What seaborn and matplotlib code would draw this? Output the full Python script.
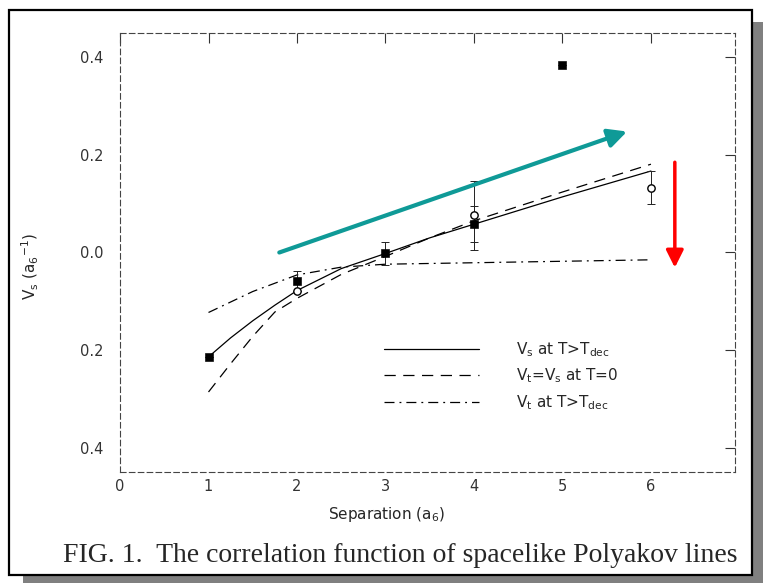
import numpy as np
import pandas as pd
import seaborn as sns
from matplotlib import pyplot as plt
from matplotlib.patches import Rectangle
from matplotlib.lines import Line2D

# %% data
# filled squares
sq_x = [1, 2, 3, 4, 5]
sq_y = [-0.214, -0.058, -0.002, 0.058, 0.385]
sq_err = [0.0, 0.02, 0.024, 0.037, 0.0]
# open circles
ci_x = [2, 4, 6]
ci_y = [-0.078, 0.076, 0.133]
ci_err = [0.0, 0.07, 0.034]

# V_s at T>T_dec (solid)
vs_x = [1, 1.25, 1.5, 1.75, 2, 2.5, 3, 3.5, 4, 5, 6]
vs_y = [-0.214, -0.175, -0.140, -0.108, -0.078, -0.033, -0.002, 0.030, 0.058, 0.114, 0.167]
# V_t = V_s at T=0 (dashed)
v0_x = [1, 1.25, 1.5, 1.75, 2, 2.5, 3, 3.5, 4, 5, 6]
v0_y = [-0.286, -0.228, -0.172, -0.122, -0.094, -0.045, -0.008, 0.030, 0.065, 0.124, 0.181]
# V_t at T>T_dec (dash-dot)
vt_x = [1, 1.5, 2, 2.5, 3, 4, 5, 6]
vt_y = [-0.123, -0.080, -0.046, -0.030, -0.024, -0.021, -0.018, -0.015]

xticks = [0, 1, 2, 3, 4, 5, 6]
yticks = [0.4, 0.2, 0.0, -0.2, -0.4]
ytick_labels = ['0.4', '0.2', '0.0', '0.2', '0.4']

# annotation arrows (start, end) in data units
teal_arrow = ((1.80, 0.0), (5.73, 0.248))
red_arrow = ((6.27, 0.185), (6.27, -0.031))

caption = 'FIG. 1.  The correlation function of spacelike Polyakov lines'

# %% figure
sns.set_style('white')
plt.rcParams['font.family'] = ['DejaVu Sans']
plt.rcParams['mathtext.default'] = 'regular'

fig = plt.figure(figsize=(7.63, 5.83), dpi=100)
fig.patch.set_facecolor('white')
# page shadow + boxed frame
fig.patches.append(Rectangle((0.030, 0.0), 0.970, 0.962, transform=fig.transFigure,
                             facecolor='#808080', edgecolor='none', zorder=0))
fig.patches.append(Rectangle((0.0118, 0.0137), 0.9738, 0.969, transform=fig.transFigure,
                             facecolor='white', edgecolor='black', lw=1.6, zorder=1))

ax = fig.add_axes([0.1573, 0.1904, 0.8060, 0.7530])
ax.set_facecolor('none')
ax.set_zorder(2)

dfVs = pd.DataFrame({'x': vs_x, 'y': vs_y})
dfV0 = pd.DataFrame({'x': v0_x, 'y': v0_y})
dfVt = pd.DataFrame({'x': vt_x, 'y': vt_y})

sns.lineplot(data=dfVs, x='x', y='y', ax=ax, color='black', lw=0.9, sort=False)
sns.lineplot(data=dfV0, x='x', y='y', ax=ax, color='black', lw=0.9, sort=False,
             linestyle=(0, (9, 6)))
sns.lineplot(data=dfVt, x='x', y='y', ax=ax, color='black', lw=0.9, sort=False,
             linestyle=(0, (8, 4, 1.5, 4)))

ax.errorbar(sq_x, sq_y, yerr=sq_err, fmt='none', ecolor='#222222', elinewidth=0.7,
            capsize=3, capthick=0.7, zorder=3)
ax.errorbar(ci_x, ci_y, yerr=ci_err, fmt='none', ecolor='#222222', elinewidth=0.7,
            capsize=3, capthick=0.7, zorder=3)
sns.scatterplot(x=sq_x, y=sq_y, ax=ax, marker='s', s=30, color='black',
                edgecolor='black', zorder=4)
sns.scatterplot(x=ci_x, y=ci_y, ax=ax, marker='o', s=28, facecolor='white',
                edgecolor='black', linewidth=1.0, zorder=4)

ax.annotate('', xy=teal_arrow[1], xytext=teal_arrow[0],
            arrowprops=dict(arrowstyle='-|>', color='#0f9a97', lw=3,
                            mutation_scale=28, shrinkA=0, shrinkB=0), zorder=5)
ax.annotate('', xy=red_arrow[1], xytext=red_arrow[0],
            arrowprops=dict(arrowstyle='-|>', color='#ff0000', lw=2.5,
                            mutation_scale=26, shrinkA=0, shrinkB=0), zorder=5)

ax.set_xlim(0, 6.95)
ax.set_ylim(-0.45, 0.45)
ax.set_xticks(xticks)
ax.set_xticklabels([str(t) for t in xticks])
ax.set_yticks(yticks)
ax.set_yticklabels(ytick_labels)
ax.tick_params(axis='both', which='major', direction='in', length=7, width=0.8,
               labelsize=10.5, labelcolor='#333333', color='#333333',
               top=True, right=True)
ax.tick_params(axis='x', pad=5)
ax.tick_params(axis='y', pad=12)
for sp in ax.spines.values():
    sp.set_linestyle((0, (5, 3)))
    sp.set_linewidth(0.8)
    sp.set_color('#444444')
    sp.set_visible(True)

ax.set_xlabel('Separation (a$_6$)', fontsize=11)
ax.set_ylabel('V$_s$ (a$_6$$^{-1}$)', fontsize=11)
ax.xaxis.set_label_coords(0.434, -0.075)
ax.yaxis.set_label_coords(-0.128, 0.469)

handles = [Line2D([], [], color='black', lw=0.9),
           Line2D([], [], color='black', lw=0.9, linestyle=(0, (9, 6))),
           Line2D([], [], color='black', lw=0.9, linestyle=(0, (8, 4, 1.5, 4)))]
labels = ['V$_s$ at T>T$_{dec}$', 'V$_t$=V$_s$ at T=0', 'V$_t$ at T>T$_{dec}$']
ax.legend(handles, labels, loc='upper left', bbox_to_anchor=(0.43, 0.30),
          frameon=False, fontsize=11, handlelength=6.2, handletextpad=2.4,
          labelspacing=0.5, borderpad=0, borderaxespad=0)

fig.text(0.524, 0.048, caption, ha='center', va='center', fontsize=20,
         family='Liberation Serif', zorder=3)

fig.savefig('out.png', dpi=100)
